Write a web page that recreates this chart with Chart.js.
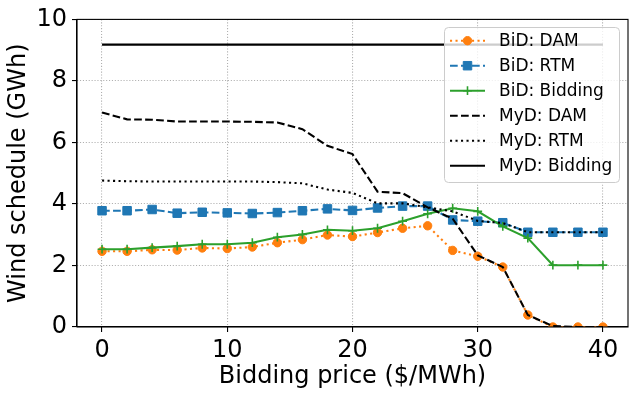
<!DOCTYPE html>
<html>
<head>
<meta charset="utf-8">
<script src="https://cdn.jsdelivr.net/npm/chart.js@4.4.1/dist/chart.umd.min.js"></script>
<style>
  html, body { margin: 0; padding: 0; background: #fff; }
  #wrap { width: 637px; height: 397px; }
</style>
</head>
<body>
<div id="wrap"><canvas id="c" width="637" height="397"></canvas></div>
<script>
// данные
const price = [0, 2, 4, 6, 8, 10, 12, 14, 16, 18, 20, 22, 24, 26, 28, 30, 32, 34, 36, 38, 40];
const bidDam = [2.46, 2.46, 2.51, 2.50, 2.57, 2.55, 2.60, 2.74, 2.84, 2.99, 2.94, 3.07, 3.21, 3.29, 2.49, 2.30, 1.95, 0.39, 0.0, 0.0, 0.0];
const bidRtm = [3.78, 3.78, 3.82, 3.70, 3.73, 3.71, 3.69, 3.72, 3.78, 3.84, 3.79, 3.87, 3.93, 3.93, 3.48, 3.44, 3.39, 3.08, 3.08, 3.08, 3.08];
const bidBidding = [2.53, 2.53, 2.58, 2.63, 2.69, 2.69, 2.74, 2.92, 3.01, 3.16, 3.13, 3.21, 3.44, 3.68, 3.86, 3.76, 3.27, 2.89, 2.01, 2.01, 2.01];
const myDam = [6.97, 6.75, 6.74, 6.68, 6.68, 6.68, 6.67, 6.65, 6.43, 5.89, 5.62, 4.40, 4.35, 3.89, 3.52, 2.33, 1.95, 0.39, 0.03, 0.0, 0.0];
const myRtm = [4.76, 4.74, 4.73, 4.73, 4.73, 4.73, 4.73, 4.71, 4.67, 4.47, 4.36, 4.02, 4.02, 3.89, 3.76, 3.45, 3.38, 3.08, 3.08, 3.08, 3.08];
const myBidding = [9.18, 9.18, 9.18, 9.18, 9.18, 9.18, 9.18, 9.18, 9.18, 9.18, 9.18, 9.18, 9.18, 9.18, 9.18, 9.18, 9.18, 9.18, 9.18, 9.18, 9.18];

const xTicks = [0, 10, 20, 30, 40];
const yTicks = [0, 2, 4, 6, 8, 10];
const xTitle = 'Bidding price ($/MWh)';
const yTitle = 'Wind schedule (GWh)';

const FONT = 'DejaVu Sans';
const LW = 2.08;
const DOT = [2.1, 3.4];
const DASH = [7.7, 3.3];

const toXY = ys => price.map((x, i) => ({ x, y: ys[i] }));

function series(label, ys, color, dash, pointStyle, radius) {
    return {
        label,
        data: toXY(ys),
        borderColor: color,
        backgroundColor: color,
        borderWidth: LW,
        borderDash: dash,
        pointStyle: pointStyle || false,
        pointRadius: pointStyle ? radius : 0,
        pointBorderWidth: pointStyle === 'cross' ? 1.6 : 1,
        pointBackgroundColor: color,
        pointBorderColor: color,
        pointHoverRadius: pointStyle ? radius : 0,
        tension: 0,
        fill: false,
        clip: 0,
    };
}

const datasets = [
    series('BiD: DAM', bidDam, '#ff7f0e', DOT, 'circle', 4.2),
    series('BiD: RTM', bidRtm, '#1f77b4', DASH, 'rect', 6),
    series('BiD: Bidding', bidBidding, '#2ca02c', [], 'cross', 4.4),
    series('MyD: DAM', myDam, '#000000', DASH),
    series('MyD: RTM', myRtm, '#000000', DOT),
    series('MyD: Bidding', myBidding, '#000000', []),
];
// как в matplotlib: последняя серия рисуется сверху
datasets.forEach((d, i) => { d.order = datasets.length - i; });

// рамка вокруг области графика
const framePlugin = {
    id: 'frame',
    afterDatasetsDraw(chart) {
        const { ctx, chartArea: a } = chart;
        ctx.save();
        ctx.strokeStyle = '#000';
        ctx.lineWidth = 1.1;
        ctx.strokeRect(a.left, a.top, a.right - a.left, a.bottom - a.top);
        ctx.restore();
    },
};

// легенда внутри поля, справа сверху
const legendPlugin = {
    id: 'innerLegend',
    afterDraw(chart) {
        const { ctx } = chart;
        const bx = 444, by = 27, bw = 175, bh = 155;
        const rowH = 25, firstRow = 40.7;
        ctx.save();
        ctx.beginPath();
        ctx.roundRect(bx + 0.5, by + 0.5, bw, bh, 4);
        ctx.fillStyle = 'rgba(255,255,255,0.8)';
        ctx.fill();
        ctx.strokeStyle = '#cccccc';
        ctx.lineWidth = 1;
        ctx.stroke();

        datasets.forEach((d, i) => {
            const y = firstRow + i * rowH;
            ctx.beginPath();
            ctx.setLineDash(d.borderDash);
            ctx.strokeStyle = d.borderColor;
            ctx.lineWidth = d.borderWidth;
            ctx.moveTo(450, y);
            ctx.lineTo(485, y);
            ctx.stroke();
            ctx.setLineDash([]);
            if (d.pointStyle) {
                ctx.fillStyle = d.pointBackgroundColor;
                ctx.strokeStyle = d.pointBorderColor;
                ctx.lineWidth = d.pointBorderWidth;
                Chart.helpers.drawPoint(ctx, {
                    pointStyle: d.pointStyle,
                    radius: d.pointRadius,
                    borderWidth: d.pointBorderWidth,
                    rotation: 0,
                }, 467.5, y);
            }
            ctx.fillStyle = '#000';
            ctx.font = '17px "' + FONT + '"';
            ctx.textBaseline = 'middle';
            ctx.textAlign = 'left';
            ctx.fillText(d.label, 499, y + 1);
        });
        ctx.restore();
    },
};

new Chart(document.getElementById('c'), {
    type: 'line',
    data: { datasets },
    options: {
        responsive: false,
        animation: false,
        layout: { padding: { top: 18, right: 9, left: 0, bottom: 0 } },
        plugins: {
            legend: { display: false },
            tooltip: { enabled: false },
        },
        scales: {
            x: {
                type: 'linear',
                min: -2,
                max: 42,
                afterBuildTicks: s => { s.ticks = xTicks.map(v => ({ value: v })); },
                afterFit: s => { s.height = 70; },
                grid: { color: '#b0b0b0', lineWidth: 1.1, tickLength: 5, tickColor: '#000', tickWidth: 1.1 },
                border: { color: '#000', width: 1.1, dash: [1.1, 1.8] },
                ticks: { color: '#000', padding: 4, maxRotation: 0, font: { family: FONT, size: 24 } },
                title: { display: true, text: xTitle, color: '#000', font: { family: FONT, size: 24 }, padding: { top: 0, bottom: 6 } },
            },
            y: {
                type: 'linear',
                min: 0,
                max: 10,
                afterBuildTicks: s => { s.ticks = yTicks.map(v => ({ value: v })); },
                afterFit: s => { s.width = 77; },
                grid: { color: '#b0b0b0', lineWidth: 1.1, tickLength: 5, tickColor: '#000', tickWidth: 1.1 },
                border: { color: '#000', width: 1.1, dash: [1.1, 1.8] },
                ticks: { color: '#000', padding: 5, font: { family: FONT, size: 24 } },
                title: { display: true, text: yTitle, color: '#000', font: { family: FONT, size: 24 }, padding: { top: 4, bottom: 0 } },
            },
        },
    },
    plugins: [framePlugin, legendPlugin],
});
</script>
</body>
</html>
